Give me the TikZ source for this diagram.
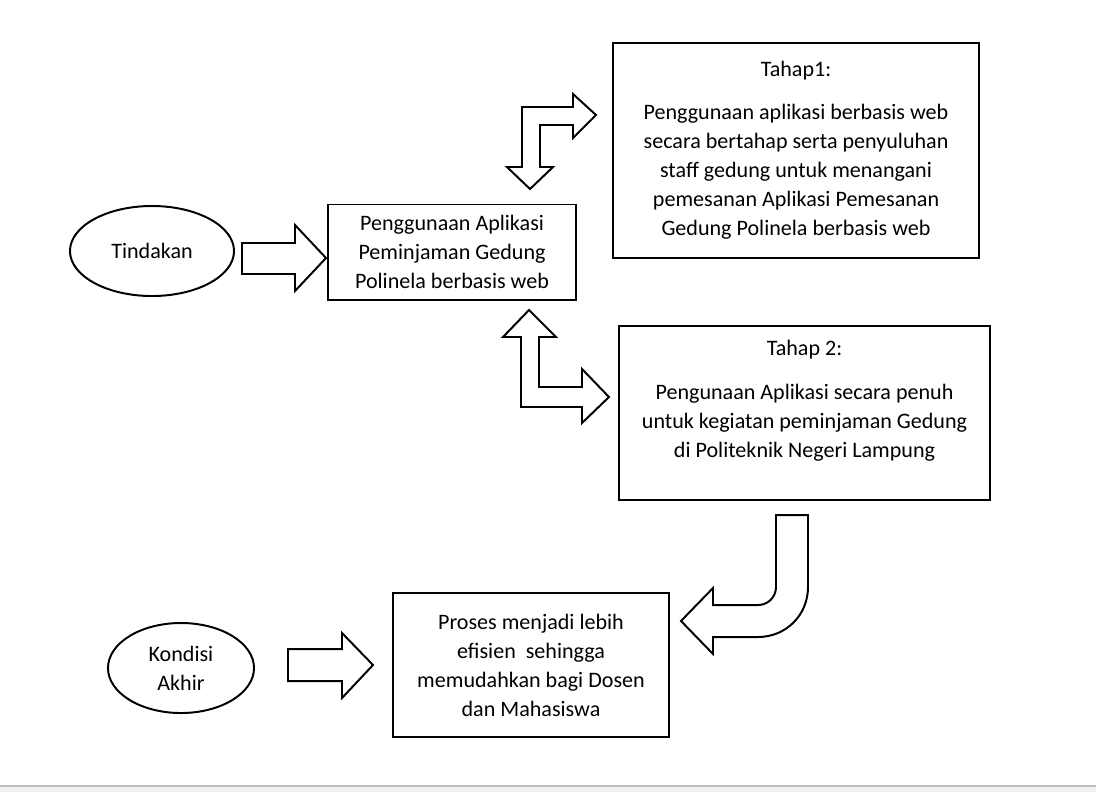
\documentclass[tikz,border=0pt]{standalone}
\usepackage{fontspec}
\setmainfont{Carlito}
\usetikzlibrary{positioning, shapes.geometric}

\begin{document}
\begin{tikzpicture}[x=0.025cm, y=-0.025cm, line width=1.4pt,
  every node/.style={font=\fontsize{15.7}{20.6}\selectfont, align=center},
  box/.style={draw, inner sep=0pt},
  oval/.style={draw, ellipse, inner sep=0pt},
  blockarrow/.style={draw, line join=miter}]
  \useasboundingbox (0,0) rectangle (1096,792);

  % Left ovals
  \node (tindakan) [oval, minimum width=4.1cm, minimum height=2.25cm] at (152,251) {Tindakan};
  \node (kondisi) [oval, minimum width=3.65cm, minimum height=2.25cm] at (181,668) {Kondisi\\Akhir};

  % Boxes
  \node (aplikasi) [box, minimum width=6.2cm, minimum height=2.375cm] at (452,252)
    {Penggunaan Aplikasi\\Peminjaman Gedung\\Polinela berbasis web};
  \node (tahap1) [box, minimum width=9.15cm, minimum height=5.375cm] at (796,150.5)
    {Tahap1:\\[0.35cm]Penggunaan aplikasi berbasis web\\secara bertahap serta penyuluhan\\staff gedung untuk menangani\\pemesanan Aplikasi Pemesanan\\Gedung Polinela berbasis web};
  \node (tahap2) [box, minimum width=9.275cm, minimum height=4.35cm] at (804.5,413) {};
  \node (tahap2txt) at (804.5,401)
    {Tahap 2:\\[0.375cm]Pengunaan Aplikasi secara penuh\\untuk kegiatan peminjaman Gedung\\di Politeknik Negeri Lampung};
  \node (hasil) [box, minimum width=6.9cm, minimum height=3.6cm] at (531,665)
    {Proses menjadi lebih\\efisien\ \ sehingga\\memudahkan bagi Dosen\\dan Mahasiswa};

  % Block arrows
  \draw[blockarrow] (242,243) -- (295,243) -- (295,225) -- (326,258) -- (295,291) -- (295,274) -- (242,274) -- cycle;
  \draw[blockarrow] (288,649) -- (342,649) -- (342,633) -- (373,665) -- (342,698) -- (342,681) -- (288,681) -- cycle;

  % Bent arrows between aplikasi and the stages
  \draw[blockarrow] (522,167) -- (522,107) -- (573,107) -- (573,94) -- (596,115) -- (573,138) -- (573,125)
    -- (540,125) -- (540,167) -- (553,167) -- (530,189) -- (507,167) -- cycle;
  \draw[blockarrow] (521,337) -- (503,337) -- (529,310) -- (556,337) -- (539,337) -- (539,387) -- (582,387)
    -- (582,369) -- (609,397) -- (582,423) -- (582,407) -- (521,407) -- cycle;

  % Curved arrow to hasil
  \draw[blockarrow] (776,515) -- (808,515) -- (808,587) .. controls (808,615) and (786,637) .. (758,637)
    -- (713,637) -- (713,654) -- (681,621) -- (713,588) -- (713,605) -- (758,605)
    .. controls (768,605) and (776,597) .. (776,587) -- cycle;

  % Bottom strip
  \fill[black!5] (0,786) rectangle (1096,792);
  \draw[black!25, line width=0.05cm] (0,785.5) -- (1096,785.5);
\end{tikzpicture}
\end{document}
